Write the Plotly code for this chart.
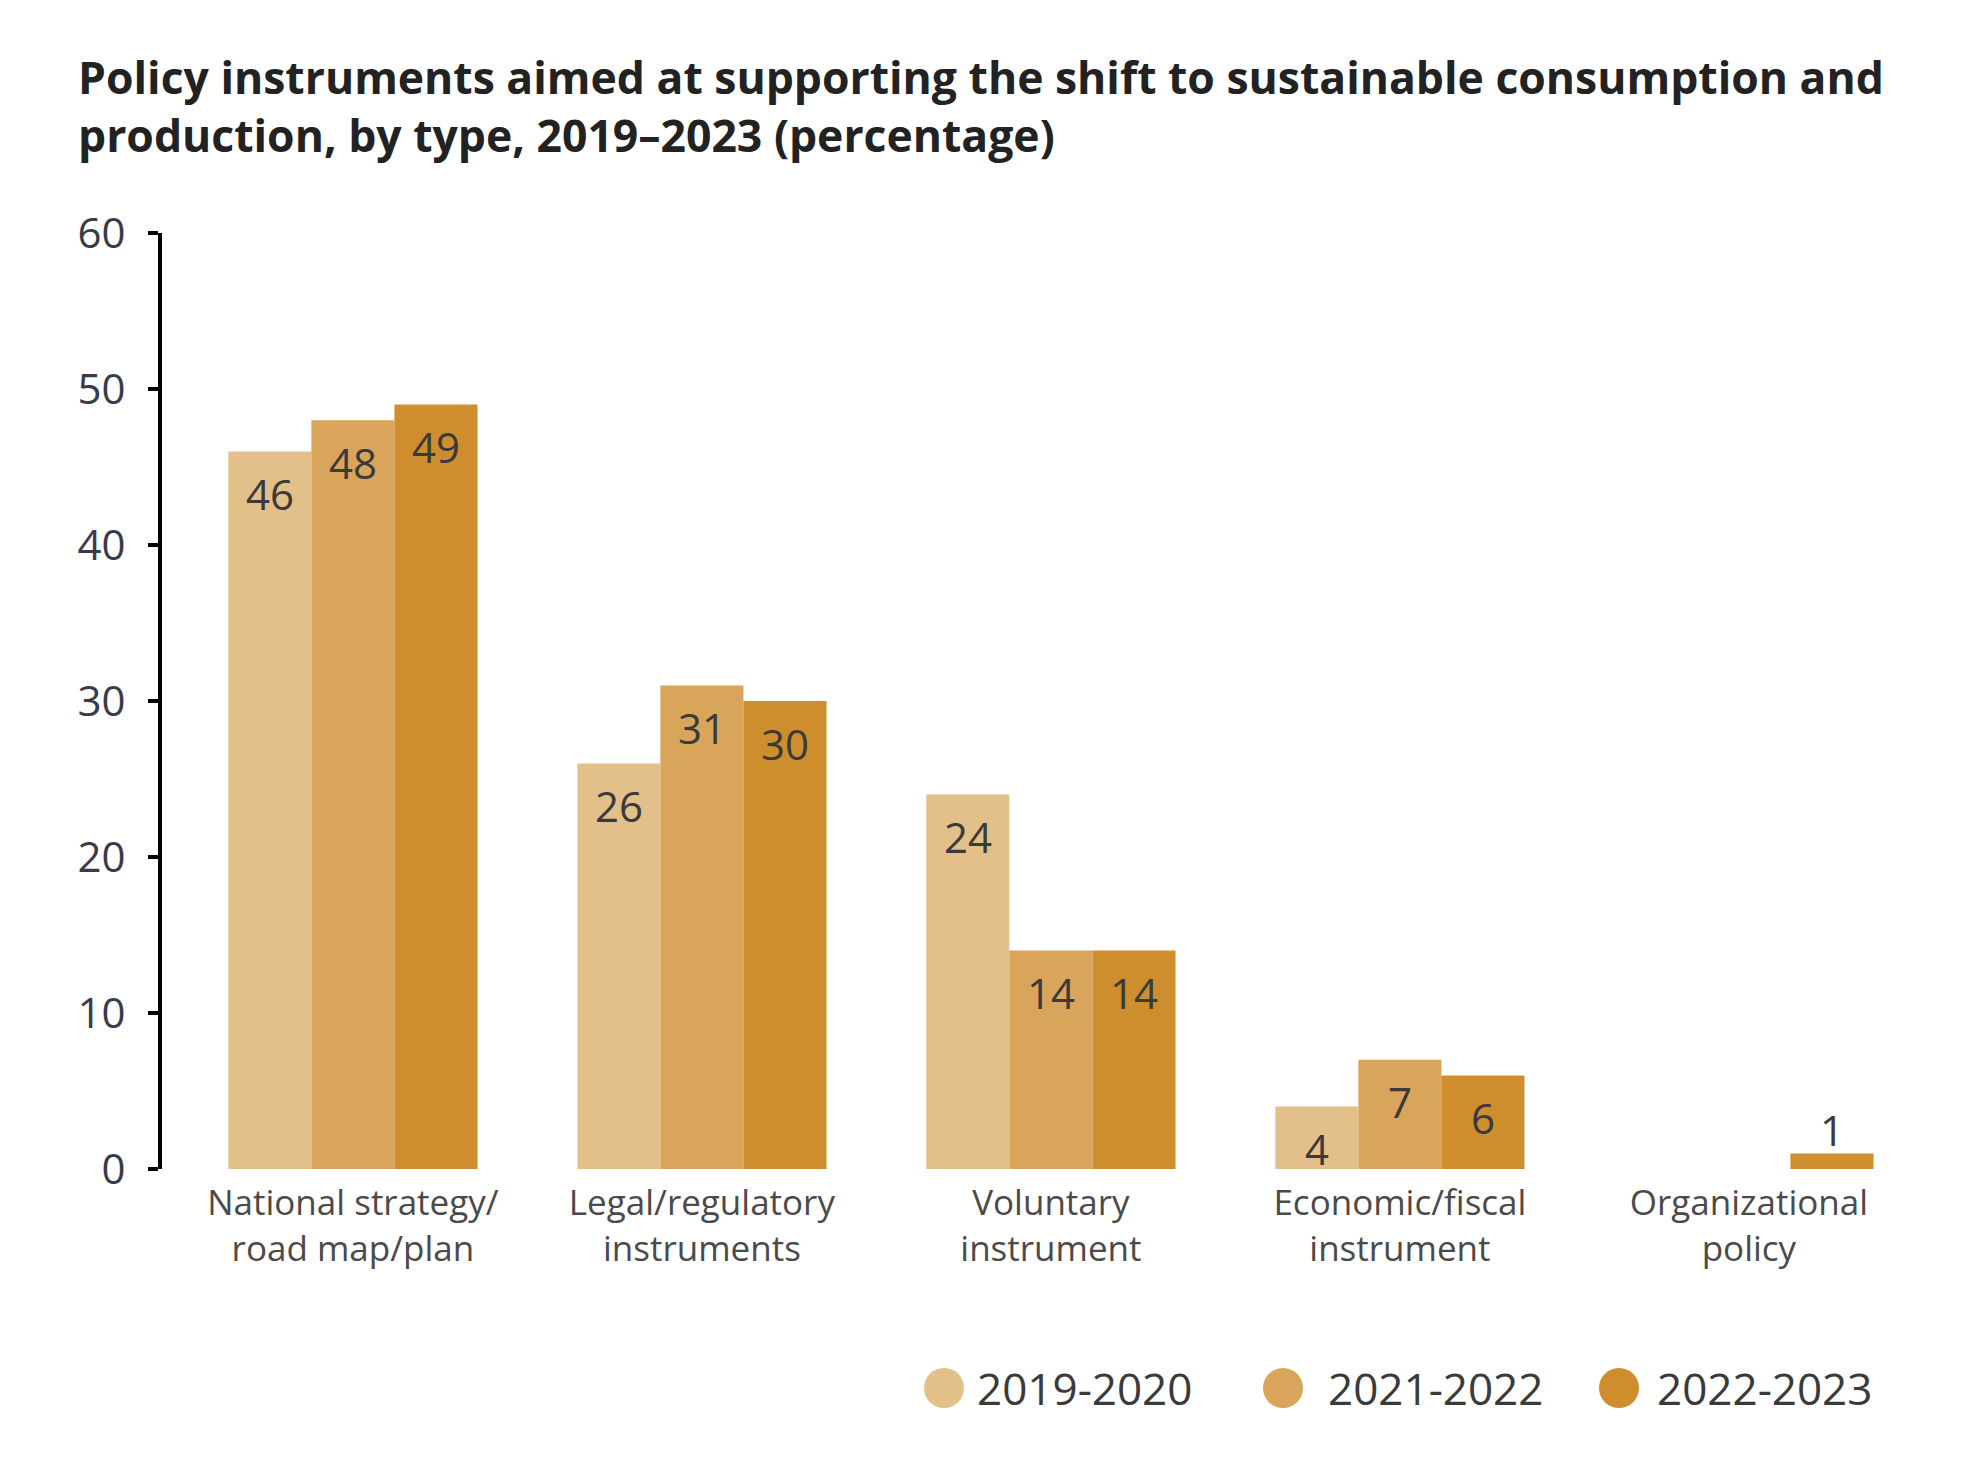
import plotly.graph_objects as go

categories = ["National strategy/<br>road map/plan", "Legal/regulatory<br>instruments",
              "Voluntary<br>instrument", "Economic/fiscal<br>instrument", "Organizational<br>policy"]
series_names = ["2019-2020", "2021-2022", "2022-2023"]
values_2019_2020 = [46, 26, 24, 4, None]
values_2021_2022 = [48, 31, 14, 7, None]
values_2022_2023 = [49, 30, 14, 6, 1]
y_ticks = [0, 10, 20, 30, 40, 50, 60]
colors = ["#E3BF89", "#D8A55A", "#CF8E2D"]

series = [values_2019_2020, values_2021_2022, values_2022_2023]

W, H = 1968, 1481
ml, mr, mt, mb = 162, 48, 233, 312
plot_w = W - ml - mr
plot_h = H - mt - mb

bar_w = 0.238
offsets = [-bar_w, 0, bar_w]
xmin = -0.547
xmax = xmin + plot_w / 349.0

fig = go.Figure()
annotations = []
for vals, name, col, off in zip(series, series_names, colors, offsets):
    xs = [i + off for i in range(len(categories))]
    fig.add_trace(go.Bar(x=xs, y=vals, width=bar_w, name=name, marker=dict(color=col, line=dict(width=0)),
                         showlegend=False, hoverinfo="skip"))
    for x, v in zip(xs, vals):
        if v is None:
            continue
        annotations.append(dict(x=x, y=v, xref="x", yref="y", text=str(v), showarrow=False,
                                yshift=(-42 if v >= 3 else 24), yanchor="middle", xanchor="center",
                                font=dict(family="Open Sans", size=42, color="#3a3a3a")))

# legend (custom circles + text)
leg_circle_px = [944, 1283, 1619]
leg_text_px = [975, 1326, 1655]
leg_y = (H - mb - 1388) / plot_h
shapes = []
for name, col, cx, tx in zip(series_names, colors, leg_circle_px, leg_text_px):
    shapes.append(dict(type="circle", xref="paper", yref="paper", xsizemode="pixel", ysizemode="pixel",
                       xanchor=(cx - ml) / plot_w, yanchor=leg_y, x0=-20, x1=20, y0=-20, y1=20,
                       fillcolor=col, line=dict(width=0)))
    annotations.append(dict(x=(tx - ml) / plot_w, y=leg_y, xref="paper", yref="paper", text=name,
                            showarrow=False, xanchor="left", yanchor="middle",
                            font=dict(family="Open Sans", size=44, color="#3a3a3a")))

fig.update_layout(
    width=W, height=H,
    margin=dict(l=ml, r=mr, t=mt, b=mb),
    paper_bgcolor="white", plot_bgcolor="white",
    title=dict(text="Policy instruments aimed at supporting the shift to sustainable consumption and<br>production, by type, 2019\u20132023 (percentage)",
               x=78 / W, xanchor="left", xref="container", y=1 - 94 / H, yanchor="top", yref="container",
               font=dict(family="Open Sans", size=44.5, color="#222222", weight=700)),
    barmode="overlay",
    showlegend=False,
    annotations=annotations,
    shapes=shapes,
    xaxis=dict(range=[xmin, xmax], tickvals=list(range(len(categories))), ticktext=categories,
               showline=False, showgrid=False, zeroline=False, ticks="", ticklabelstandoff=10,
               tickfont=dict(family="Open Sans", size=35, color="#4a4a4a")),
    yaxis=dict(range=[0, 60], tickvals=y_ticks, showline=True, linecolor="black", linewidth=4,
               ticks="outside", ticklen=10, tickwidth=4, tickcolor="black", showgrid=False, zeroline=False,
               ticklabelstandoff=14,
               tickfont=dict(family="Open Sans", size=42, color="#3a3a4a")),
)

fig.write_html("out.html")
